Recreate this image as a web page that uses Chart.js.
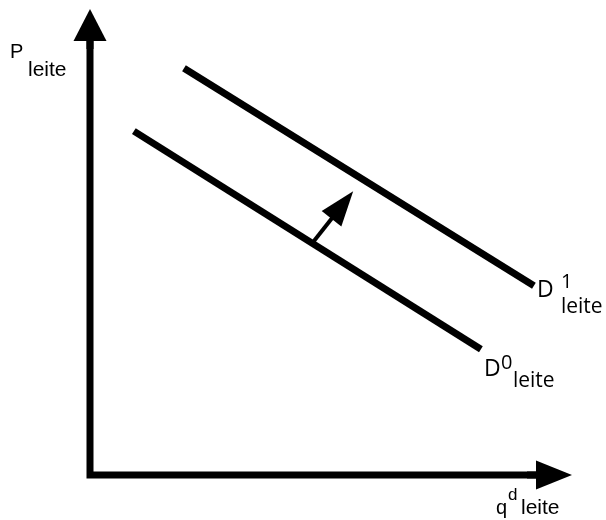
<!DOCTYPE html>
<html>
<head>
<meta charset="utf-8">
<script src="https://cdn.jsdelivr.net/npm/chart.js@4.4.0/dist/chart.umd.min.js"></script>
<style>
  html, body { margin: 0; padding: 0; background: #fff; }
  #wrap { width: 606px; height: 520px; }
</style>
</head>
<body>
<div id="wrap"><canvas id="grafico" width="606" height="520"></canvas></div>
<script>
  // eixos (unidades arbitrarias, 0..10)
  const eixoMax = 10;

  // curvas de demanda de leite: quantidade (q) e preco (P) nos extremos
  const demanda0Q = [0.91, 8.11];
  const demanda0P = [7.38, 2.70];
  const demanda1Q = [1.95, 9.21];
  const demanda1P = [8.73, 4.06];

  // seta do deslocamento D0 -> D1
  const deslocQ = [4.63, 5.46];
  const deslocP = [5.00, 6.09];

  // textos
  const nomeCurva = 'D';
  const indicesCurva = ['0', '1'];
  const subscrito = 'leite';
  const nomeEixoY = 'P';
  const nomeEixoX = 'q';
  const supEixoX = 'd';

  const pontos = (qs, ps) => qs.map((q, i) => ({ x: q, y: ps[i] }));

  // desenha linha com ponta de seta no final
  function seta(ctx, x0, y0, x1, y1, largura, compPonta, meiaPonta) {
    const dx = x1 - x0, dy = y1 - y0;
    const len = Math.hypot(dx, dy);
    const ux = dx / len, uy = dy / len;
    const bx = x1 - ux * compPonta, by = y1 - uy * compPonta;
    ctx.beginPath();
    ctx.lineWidth = largura;
    ctx.lineCap = 'butt';
    ctx.moveTo(x0, y0);
    ctx.lineTo(bx + ux, by + uy);
    ctx.stroke();
    ctx.beginPath();
    ctx.moveTo(x1, y1);
    ctx.lineTo(bx - uy * meiaPonta, by + ux * meiaPonta);
    ctx.lineTo(bx + uy * meiaPonta, by - ux * meiaPonta);
    ctx.closePath();
    ctx.fill();
  }

  const desenhos = {
    id: 'desenhos',
    afterDatasetsDraw(chart) {
      const ctx = chart.ctx;
      const sx = chart.scales.x, sy = chart.scales.y;
      const ox = sx.getPixelForValue(0), oy = sy.getPixelForValue(0);
      const topo = sy.getPixelForValue(eixoMax);
      const dir = sx.getPixelForValue(eixoMax);

      ctx.save();
      ctx.strokeStyle = '#000';
      ctx.fillStyle = '#000';

      // eixos com quina em L
      ctx.beginPath();
      ctx.lineWidth = 7;
      ctx.lineJoin = 'miter';
      ctx.moveTo(ox, topo + 31);
      ctx.lineTo(ox, oy);
      ctx.lineTo(dir - 35, oy);
      ctx.stroke();
      seta(ctx, ox, topo + 40, ox, topo, 7, 32, 16.5);
      seta(ctx, dir - 45, oy, dir, oy, 7, 36, 14.5);

      // deslocamento da demanda
      seta(ctx,
        sx.getPixelForValue(deslocQ[0]), sy.getPixelForValue(deslocP[0]),
        sx.getPixelForValue(deslocQ[1]), sy.getPixelForValue(deslocP[1]),
        4, 35, 12.5);

      ctx.textBaseline = 'alphabetic';
      ctx.textAlign = 'left';

      // rotulo do eixo P
      ctx.font = '20px "Liberation Sans", Arial, sans-serif';
      ctx.fillText(nomeEixoY, ox - 80, topo + 49);
      ctx.font = '21px "Liberation Sans", Arial, sans-serif';
      ctx.fillText(subscrito, ox - 62, topo + 67);

      // rotulo do eixo q
      ctx.font = '20px "Liberation Sans", Arial, sans-serif';
      ctx.fillText(nomeEixoX, dir - 76, oy + 39);
      ctx.font = '17px "Liberation Sans", Arial, sans-serif';
      ctx.fillText(supEixoX, dir - 64, oy + 25);
      ctx.font = '21px "Liberation Sans", Arial, sans-serif';
      ctx.fillText(subscrito, dir - 51, oy + 39);

      // rotulos das curvas
      const fins = [
        { x: sx.getPixelForValue(demanda0Q[1]), y: sy.getPixelForValue(demanda0P[1]), dy: 27, supX: 20, supY: 20, subX: 32, subY: 38 },
        { x: sx.getPixelForValue(demanda1Q[1]), y: sy.getPixelForValue(demanda1P[1]), dy: 11, supX: 27, supY: 2, subX: 27, subY: 27 }
      ];
      fins.forEach((f, i) => {
        const bx = f.x + 3;
        ctx.font = '23px "Open Sans", sans-serif';
        ctx.fillText(nomeCurva, bx, f.y + f.dy);
        ctx.font = '20px "Open Sans", sans-serif';
        ctx.fillText(indicesCurva[i], f.x + f.supX, f.y + f.supY);
        ctx.font = '21px "Open Sans", sans-serif';
        ctx.fillText(subscrito, f.x + f.subX, f.y + f.subY);
      });
      ctx.restore();
    }
  };

  const ctx = document.getElementById('grafico').getContext('2d');
  new Chart(ctx, {
    type: 'scatter',
    data: {
      datasets: [
        {
          label: 'D0',
          data: pontos(demanda0Q, demanda0P),
          showLine: true,
          borderColor: '#000',
          borderWidth: 7,
          pointRadius: 0
        },
        {
          label: 'D1',
          data: pontos(demanda1Q, demanda1P),
          showLine: true,
          borderColor: '#000',
          borderWidth: 7,
          pointRadius: 0
        }
      ]
    },
    options: {
      responsive: false,
      animation: false,
      devicePixelRatio: 1,
      layout: { padding: { left: 90, right: 34, top: 9, bottom: 45 } },
      scales: {
        x: { type: 'linear', min: 0, max: eixoMax, display: false },
        y: { type: 'linear', min: 0, max: eixoMax, display: false }
      },
      plugins: {
        legend: { display: false },
        tooltip: { enabled: false }
      }
    },
    plugins: [desenhos]
  });
</script>
</body>
</html>
